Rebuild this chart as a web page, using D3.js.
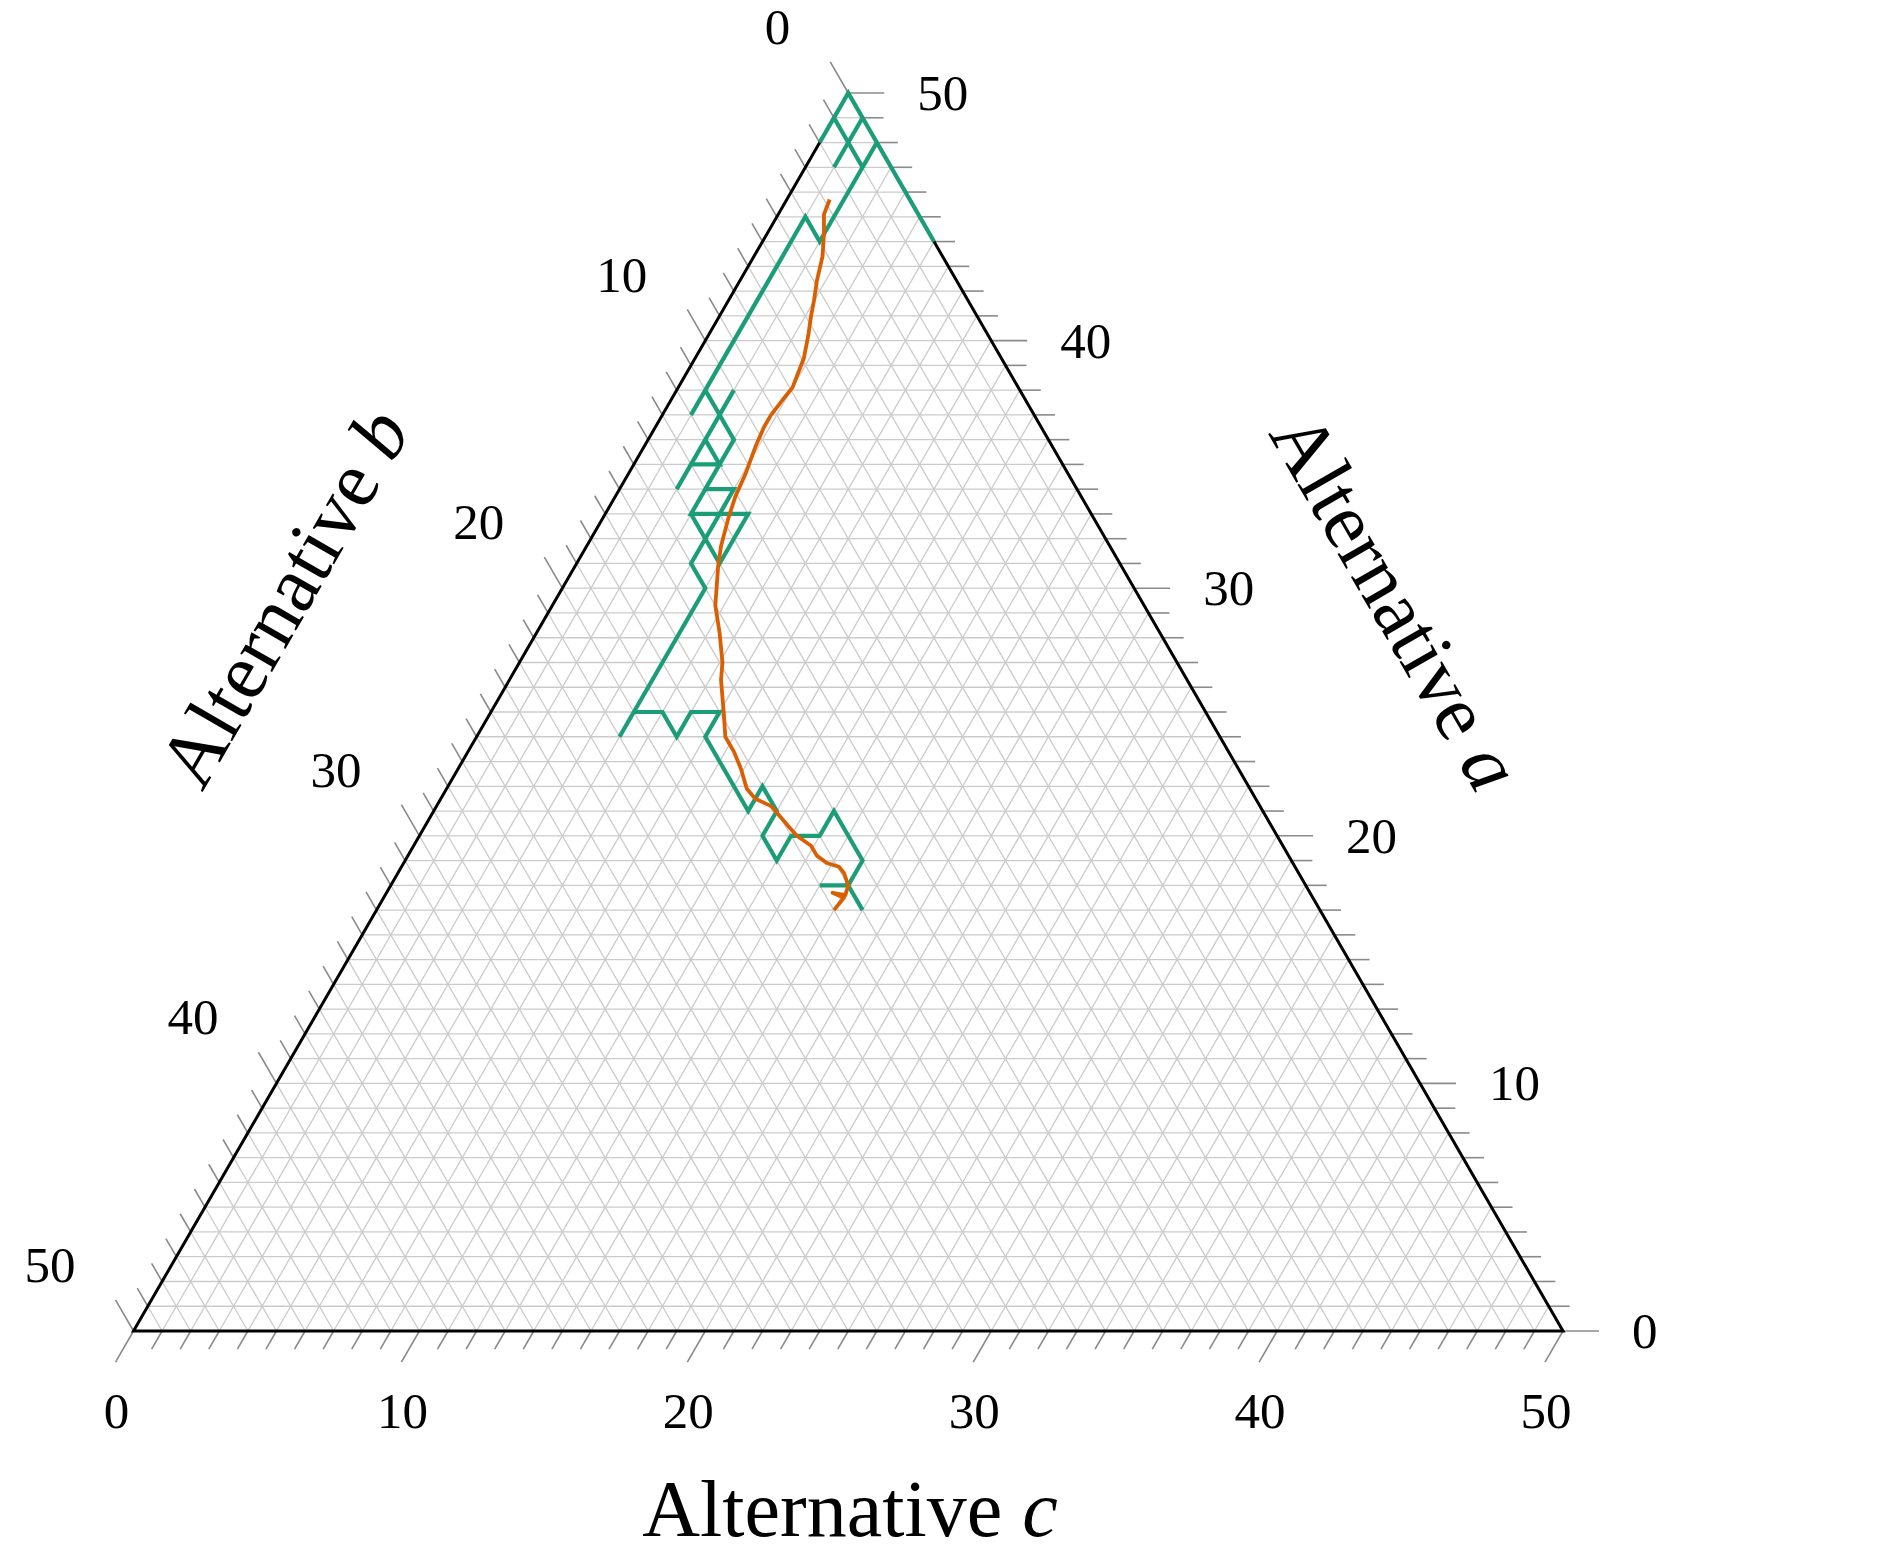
<!DOCTYPE html>
<html>
<head>
<meta charset="utf-8">
<script src="https://cdn.jsdelivr.net/npm/d3@7"></script>
<style>
  body { margin: 0; background: #fff; }
  text { font-family: "Liberation Serif", "DejaVu Serif", serif; fill: #000; }
</style>
</head>
<body>
<div id="chart"></div>
<script>
var total = 50;
var tickValues = [0, 10, 20, 30, 40, 50];

// lattice walk: votes for alternative a and c at each step (b = 50 - a - c)
var walkA = [47, 48, 49, 50, 49, 48, 49, 48, 47, 48, 49, 48, 47, 46, 45, 44, 45, 46, 47, 48,
  47, 46, 45, 44, 45, 44, 43, 42, 41, 40, 39, 38, 37, 38, 37, 38, 37, 36, 35, 34,
  35, 35, 36, 37, 36, 35, 34, 34, 33, 33, 34, 33, 32, 31, 32, 33, 33, 32, 31, 30,
  29, 28, 27, 26, 25, 24, 25, 25, 24, 25, 25, 24, 23, 22, 21, 22, 21, 20, 19, 20,
  20, 21, 20, 19, 18, 18, 18, 17];
var walkC = [1, 1, 1, 0, 0, 0, 0, 1, 2, 2, 1, 2, 3, 4, 5, 6, 5, 4, 3, 2,
  2, 2, 2, 2, 1, 1, 1, 1, 1, 1, 1, 1, 1, 1, 2, 2, 2, 2, 2, 2,
  2, 3, 2, 2, 3, 3, 3, 4, 4, 3, 3, 3, 4, 5, 5, 5, 4, 4, 4, 5,
  5, 5, 5, 5, 5, 5, 5, 6, 7, 7, 8, 8, 9, 10, 11, 11, 12, 12, 13, 13,
  14, 14, 15, 16, 16, 15, 16, 17];

// averaged trajectory
var avgA = [45.7, 45.1, 44.3, 43.4, 42.4, 41.6, 41.0, 40.2, 39.3, 38.7, 38.1, 37.6, 37.0, 36.5, 35.7,
  34.6, 33.7, 32.8, 31.7, 30.9, 29.3, 28.2, 27.0, 26.3, 24.9, 24.0, 23.4, 22.7, 21.9, 21.5,
  21.2, 20.8, 20.4, 20.0, 19.6, 19.2, 18.9, 18.75, 18.5, 18.0, 17.6, 17.7, 17.5, 17.0];
var avgC = [1.5, 1.6, 2.0, 2.4, 2.7, 3.0, 3.2, 3.5, 3.8, 3.9, 4.0, 3.9, 3.8, 3.8, 3.9,
  4.1, 4.2, 4.4, 4.7, 5.0, 5.7, 6.4, 7.1, 7.4, 8.2, 8.7, 9.3, 9.9, 10.5, 11.0,
  11.7, 12.2, 12.7, 13.2, 13.9, 14.3, 14.8, 15.3, 15.6, 16.0, 16.1, 15.6, 16.1, 16.0];

var width = 1887, height = 1556;
var left = 133.5, right = 1563, bottom = 1331;
var side = right - left, tri = side * Math.sqrt(3) / 2;

var svg = d3.select("#chart").append("svg")
  .attr("width", width)
  .attr("height", height);

// ternary -> screen, through two linear scales
var xScale = d3.scaleLinear().domain([0, total]).range([left, right]);
var yScale = d3.scaleLinear().domain([0, total]).range([bottom, bottom - tri]);
function pt(a, c) { return [xScale(c + a / 2), yScale(a)]; }

var cos60 = 0.5, sin60 = Math.sqrt(3) / 2;
var steps = d3.range(1, total);

// grid
var grid = svg.append("g")
  .attr("stroke", "#cbcbcb")
  .attr("stroke-width", 1.3);

steps.forEach(function(i) {
  var segs = [
    [pt(i, 0), pt(i, total - i)],               // constant a
    [pt(0, i), pt(total - i, i)],               // constant c
    [pt(0, total - i), pt(total - i, 0)]        // constant b
  ];
  segs.forEach(function(s) {
    grid.append("line")
      .attr("x1", s[0][0]).attr("y1", s[0][1])
      .attr("x2", s[1][0]).attr("y2", s[1][1]);
  });
});

// ticks
var ticks = svg.append("g")
  .attr("stroke", "#8a8a8a")
  .attr("stroke-width", 1.6);
var allTicks = d3.range(0, total + 1);
function tickLen(v) { return v % 10 === 0 ? 36 : 21; }

allTicks.forEach(function(v) {
  var L = tickLen(v);
  // bottom: alternative c
  var p = pt(0, v);
  ticks.append("line")
    .attr("x1", p[0]).attr("y1", p[1])
    .attr("x2", p[0] - L * cos60).attr("y2", p[1] + L * sin60);
  // right: alternative a
  p = pt(v, total - v);
  ticks.append("line")
    .attr("x1", p[0]).attr("y1", p[1])
    .attr("x2", p[0] + L).attr("y2", p[1]);
  // left: alternative b
  p = pt(total - v, 0);
  ticks.append("line")
    .attr("x1", p[0]).attr("y1", p[1])
    .attr("x2", p[0] - L * cos60).attr("y2", p[1] - L * sin60);
});

// tick labels
var labels = svg.append("g").style("font-size", "51px");

labels.selectAll("text.c")
  .data(tickValues)
  .enter().append("text")
  .attr("class", "c")
  .attr("text-anchor", "middle")
  .attr("x", function(d) { return pt(0, d)[0] - 17; })
  .attr("y", bottom + 97)
  .text(function(d) { return d; });

labels.selectAll("text.a")
  .data(tickValues)
  .enter().append("text")
  .attr("class", "a")
  .attr("text-anchor", "start")
  .attr("x", function(d) { return pt(d, total - d)[0] + 69; })
  .attr("y", function(d) { return pt(d, total - d)[1] + 17; })
  .text(function(d) { return d; });

labels.selectAll("text.b")
  .data(tickValues)
  .enter().append("text")
  .attr("class", "b")
  .attr("text-anchor", "end")
  .attr("x", function(d) { return pt(total - d, 0)[0] - 58; })
  .attr("y", function(d) { return pt(total - d, 0)[1] - 49; })
  .text(function(d) { return d; });

// frame
var corners = [pt(0, 0), pt(0, total), pt(total, 0)];
svg.append("path")
  .attr("d", "M" + corners.join("L") + "Z")
  .attr("fill", "none")
  .attr("stroke", "#000")
  .attr("stroke-width", 3);

// series
var line = d3.line();

svg.append("path")
  .attr("d", line(walkA.map(function(a, i) { return pt(a, walkC[i]); })))
  .attr("fill", "none")
  .attr("stroke", "#1b9e77")
  .attr("stroke-width", 4.2);

svg.append("path")
  .attr("d", line(avgA.map(function(a, i) { return pt(a, avgC[i]); })))
  .attr("fill", "none")
  .attr("stroke", "#d95f02")
  .attr("stroke-width", 3.8)
  .attr("stroke-linejoin", "round");

// axis titles
var titles = svg.append("g").style("font-size", "80px");

function title(g, name, letter) {
  g.append("tspan").text(name + " ");
  g.append("tspan").style("font-style", "italic").text(letter);
}

title(titles.append("text")
  .attr("text-anchor", "middle")
  .attr("x", 850)
  .attr("y", 1536), "Alternative", "c");

title(titles.append("text")
  .attr("text-anchor", "middle")
  .attr("dy", "0.35em")
  .attr("transform", "translate(283,597) rotate(-60)"), "Alternative", "b");

title(titles.append("text")
  .attr("text-anchor", "middle")
  .attr("dy", "0.35em")
  .attr("transform", "translate(1397,601) rotate(60)"), "Alternative", "a");
</script>
</body>
</html>
